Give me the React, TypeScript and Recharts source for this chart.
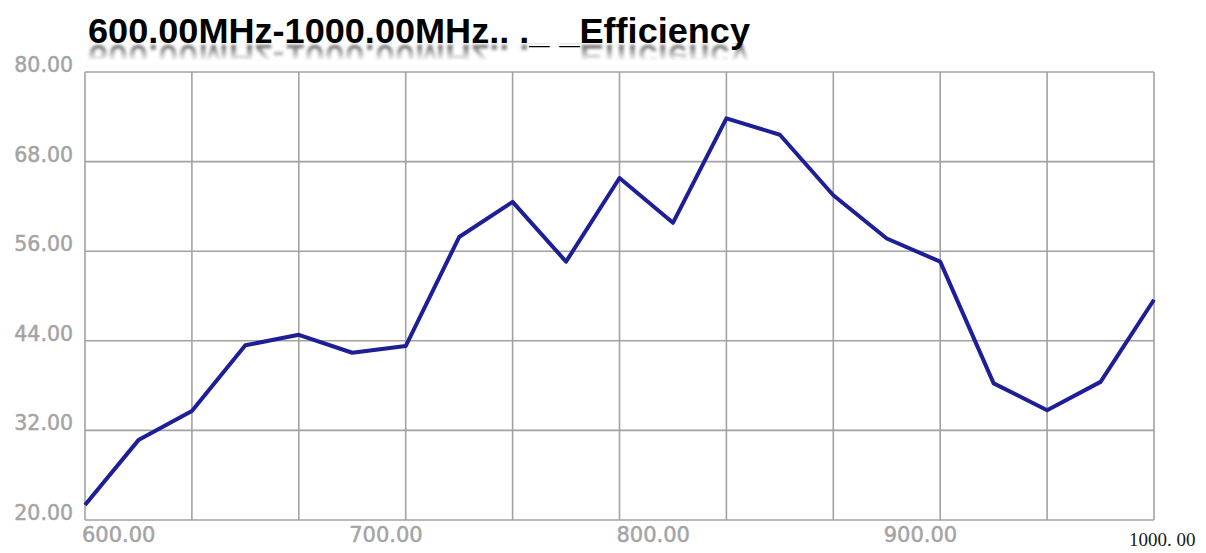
import React from "react";
import { LineChart, Line, XAxis, YAxis, CartesianGrid } from "recharts";

// 频率 (MHz)
const FREQS = [600, 620, 640, 660, 680, 700, 720, 740, 760, 780, 800, 820, 840, 860, 880, 900, 920, 940, 960, 980, 1000];
// 效率 (%)
const EFFICIENCY = [22.0, 30.7, 34.6, 43.4, 44.8, 42.4, 43.3, 57.9, 62.6, 54.6, 65.8, 59.8, 73.8, 71.6, 63.5, 57.7, 54.6, 38.3, 34.7, 38.5, 49.5];

const Y_TICKS = [20, 32, 44, 56, 68, 80];
const X_LABEL_TICKS = [600, 700, 800, 900, 1000];
const X_GRID_TICKS = [600, 640, 680, 720, 760, 800, 840, 880, 920, 960, 1000];
const TITLE = "600.00MHz-1000.00MHz.. ._ _Efficiency";

const W = 1206;
const H = 553;
const GRID = "#a2a2a2";
const LABEL = "#a4a4a4";

const data = FREQS.map((f, i) => ({ freq: f, eff: EFFICIENCY[i] }));

function YTick({ x, y, payload }: any) {
  return (
    <text
      x={x - 12}
      y={y - 7}
      textAnchor="end"
      dominantBaseline="central"
      fontFamily="DejaVu Sans"
      fontSize={20.5}
      fill={LABEL}
      stroke={LABEL}
      strokeWidth={0.5}
    >
      {payload.value.toFixed(2)}
    </text>
  );
}

function XTick({ x, y, payload }: any) {
  if (payload.value === 1000) {
    // 最后一个标签字体不同
    return (
      <text x={x - 25} y={y + 19} dominantBaseline="central" fontFamily="Liberation Serif" fontSize={19} fill="#1a1a1a">
        1000. 00
      </text>
    );
  }
  return (
    <text
      x={x - 3}
      y={y + 15}
      dominantBaseline="central"
      fontFamily="DejaVu Sans"
      fontSize={21}
      fill={LABEL}
      stroke={LABEL}
      strokeWidth={0.5}
    >
      {payload.value.toFixed(2)}
    </text>
  );
}

function Title() {
  return (
    <svg width={W} height={80} style={{ position: "absolute", left: 0, top: 0, pointerEvents: "none" }}>
      <defs>
        <filter id="blur">
          <feGaussianBlur stdDeviation="1.8" />
        </filter>
        <linearGradient id="fade" x1="0" y1="0" x2="0" y2="1">
          <stop offset="0" stopColor="#fff" stopOpacity={0.75} />
          <stop offset="1" stopColor="#fff" stopOpacity={0} />
        </linearGradient>
        <mask id="fadeMask" maskUnits="userSpaceOnUse" x="0" y="43" width={W} height="20">
          <rect x="0" y="43" width={W} height="18" fill="url(#fade)" />
        </mask>
        <text
          id="titleText"
          x={88}
          y={43}
          textLength={662}
          lengthAdjust="spacingAndGlyphs"
          fontFamily="Liberation Sans"
          fontWeight="bold"
          fontSize={35}
        >
          {TITLE}
        </text>
      </defs>
      <g mask="url(#fadeMask)">
        <use href="#titleText" transform="translate(0 88) scale(1 -1)" fill="#222" filter="url(#blur)" />
      </g>
      <use href="#titleText" fill="#000" />
    </svg>
  );
}

export default function App() {
  return (
    <div style={{ position: "absolute", left: 0, top: 0, width: W, height: H, background: "#fff" }}>
      <LineChart width={W} height={H} data={data} margin={{ top: 72, right: 52, bottom: 0, left: 0 }}>
        <CartesianGrid xAxisId="grid" stroke={GRID} strokeWidth={1.6} />
        <XAxis
          xAxisId="grid"
          orientation="top"
          dataKey="freq"
          type="number"
          domain={[600, 1000]}
          ticks={X_GRID_TICKS}
          height={0}
          hide
        />
        <XAxis
          xAxisId="main"
          dataKey="freq"
          type="number"
          domain={[600, 1000]}
          ticks={X_LABEL_TICKS}
          height={33}
          tickSize={0}
          tickMargin={0}
          axisLine={false}
          tickLine={false}
          interval={0}
          tick={<XTick />}
        />
        <YAxis
          type="number"
          domain={[20, 80]}
          ticks={Y_TICKS}
          width={85}
          tickSize={0}
          tickMargin={0}
          axisLine={false}
          tickLine={false}
          interval={0}
          tick={<YTick />}
        />
        <Line
          xAxisId="main"
          type="linear"
          dataKey="eff"
          stroke="#1e1e96"
          strokeWidth={4}
          strokeLinejoin="round"
          dot={false}
          activeDot={false}
          isAnimationActive={false}
        />
      </LineChart>
      <Title />
    </div>
  );
}
